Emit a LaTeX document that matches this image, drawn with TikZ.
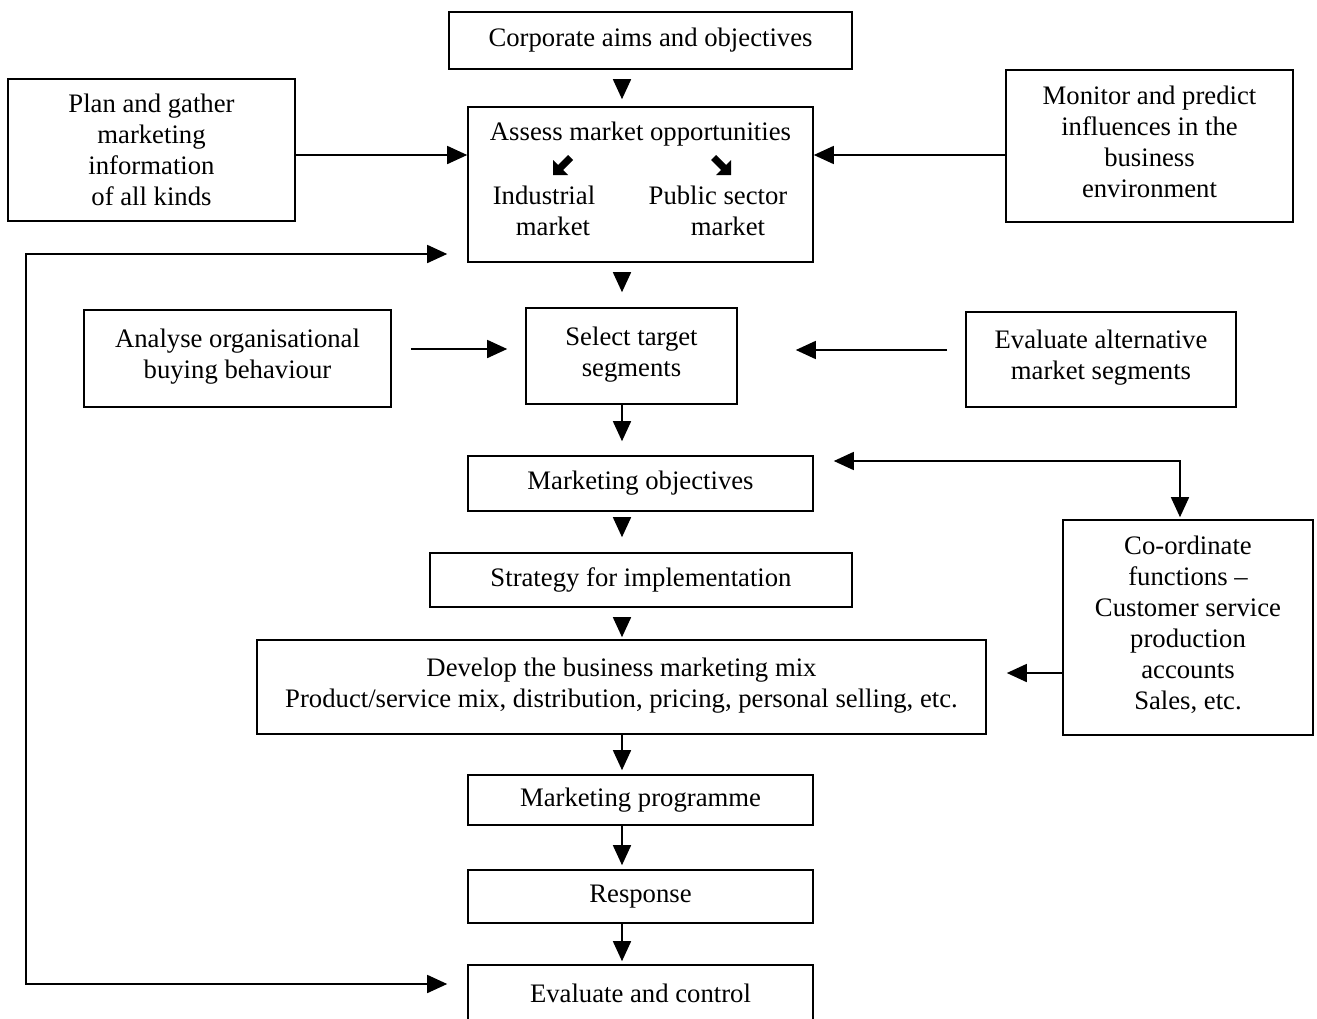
\documentclass[tikz,border=0pt]{standalone}
\usepackage{fontspec}
\setmainfont{Liberation Serif}
\usetikzlibrary{arrows.meta}
\begin{document}
\begin{tikzpicture}[x=1pt,y=-1pt,
  box/.style={draw, line width=1.6pt, inner sep=0pt, align=center,
    font=\fontsize{26.7}{31}\selectfont},
  txt/.style={inner sep=0pt, font=\fontsize{26.7}{31}\selectfont},
  arr/.style={line width=1.6pt, -{Triangle[length=20,width=18]}},
  darr/.style={line width=1.6pt, {Triangle[length=20,width=18]}-{Triangle[length=20,width=18]}},
  glyph/.style={fill=black}]
\useasboundingbox (0,0) rectangle (1317,1018);
\clip (0,0) rectangle (1317,1018);
\fill[white] (0,0) rectangle (1317,1018);

\coordinate (colx) at (622,0);

\node[box, minimum width=403, minimum height=57] (corp) at (650.5,40.5) {Corporate aims and objectives};
\node[box, minimum width=287, minimum height=142] (plan) at (151.5,150) {Plan and gather\\marketing\\information\\of all kinds};
\node[box, minimum width=345, minimum height=155] (assess) at (640.5,184.5) {};
\node[txt] (assesst) at (640.5,134) {Assess market opportunities};
\node[txt] (ind1) at (544,195) {Industrial};
\node[txt] (ind2) at (553,226) {market};
\node[txt] (pub1) at (718,195) {Public sector};
\node[txt] (pub2) at (728,226) {market};
\fill[glyph] (553,175) -- (553,160) -- (558,165) -- (568,155) -- (573,160) -- (563,170) -- (568,175) -- cycle;
\fill[glyph] (731,175) -- (731,160) -- (726,165) -- (716,155) -- (711,160) -- (721,170) -- (716,175) -- cycle;
\node[box, minimum width=287, minimum height=152] (monitor) at (1149.5,146) {Monitor and predict\\influences in the\\business\\environment\\[-22pt]};

\node[box, minimum width=307, minimum height=97] (analyse) at (237.5,358.5) {Analyse organisational\\buying behaviour\\[-22pt]};
\node[box, minimum width=211, minimum height=96] (select) at (631.5,356) {Select target\\segments\\[-22pt]};
\node[box, minimum width=270, minimum height=95] (evalt) at (1101,359.5) {Evaluate alternative\\market segments\\[-22pt]};

\node[box, minimum width=345, minimum height=55] (mo) at (640.5,483.5) {Marketing objectives};
\node[box, minimum width=250, minimum height=215] (coord) at (1188,627.5) {Co-ordinate\\functions –\\Customer service\\production\\accounts\\Sales, etc.\\[-22pt]};
\node[box, minimum width=422, minimum height=54] (strat) at (641,580) {Strategy for implementation};
\node[box, minimum width=729, minimum height=94] (dev) at (621.5,687) {Develop the business marketing mix\\Product/service mix, distribution, pricing, personal selling, etc.\\[-22pt]};
\node[box, minimum width=345, minimum height=50] (mp) at (640.5,800) {Marketing programme};
\node[box, minimum width=345, minimum height=53] (resp) at (640.5,896.5) {Response};
\node[box, minimum width=345, minimum height=56] (eval) at (640.5,993) {Evaluate and control};

% vertical chain
\draw[arr, shorten <=10pt, shorten >=7pt] (corp.south -| colx) -- (assess.north -| colx);
\draw[arr, shorten <=10pt, shorten >=15pt] (assess.south -| colx) -- (select.north -| colx);
\draw[arr, shorten >=14pt] (select.south -| colx) -- (mo.north -| colx);
\draw[arr, shorten <=7pt, shorten >=15pt] (mo.south -| colx) -- (strat.north -| colx);
\draw[arr, shorten <=11pt, shorten >=2pt] (strat.south -| colx) -- (dev.north -| colx);
\draw[arr, shorten >=4pt] (dev.south -| colx) -- (mp.north -| colx);
\draw[arr, shorten >=4pt] (mp.south -| colx) -- (resp.north -| colx);
\draw[arr, shorten >=3pt] (resp.south -| colx) -- (eval.north -| colx);

% side inputs
\coordinate (rowA) at (0,155);
\draw[arr] (plan.east |- rowA) -- (assess.west |- rowA);
\draw[arr] (monitor.west |- rowA) -- (assess.east |- rowA);
\coordinate (rowB) at (0,349);
\coordinate (rowC) at (0,350);
\draw[arr, shorten <=19pt, shorten >=18pt] (analyse.east |- rowB) -- (select.west |- rowB);
\draw[arr, shorten <=18pt, shorten >=58pt] (evalt.west |- rowC) -- (select.east |- rowC);

% co-ordinate links
\coordinate (rowD) at (0,461);
\coordinate (cx) at (1180,0);
\coordinate (corner) at (1180,461);
\draw[darr, shorten <=20pt, shorten >=2pt] (mo.east |- rowD) -- (corner) -- (coord.north -| cx);
\coordinate (rowE) at (0,673);
\draw[arr, shorten >=20pt] (coord.west |- rowE) -- (dev.east |- rowE);

% feedback loop
\coordinate (fb1) at (26,254);
\coordinate (fb2) at (26,984);
\draw[darr, shorten <=20pt, shorten >=20pt] (assess.west |- fb1) -- (fb1) -- (fb2) -- (eval.west |- fb2);
\end{tikzpicture}
\end{document}
